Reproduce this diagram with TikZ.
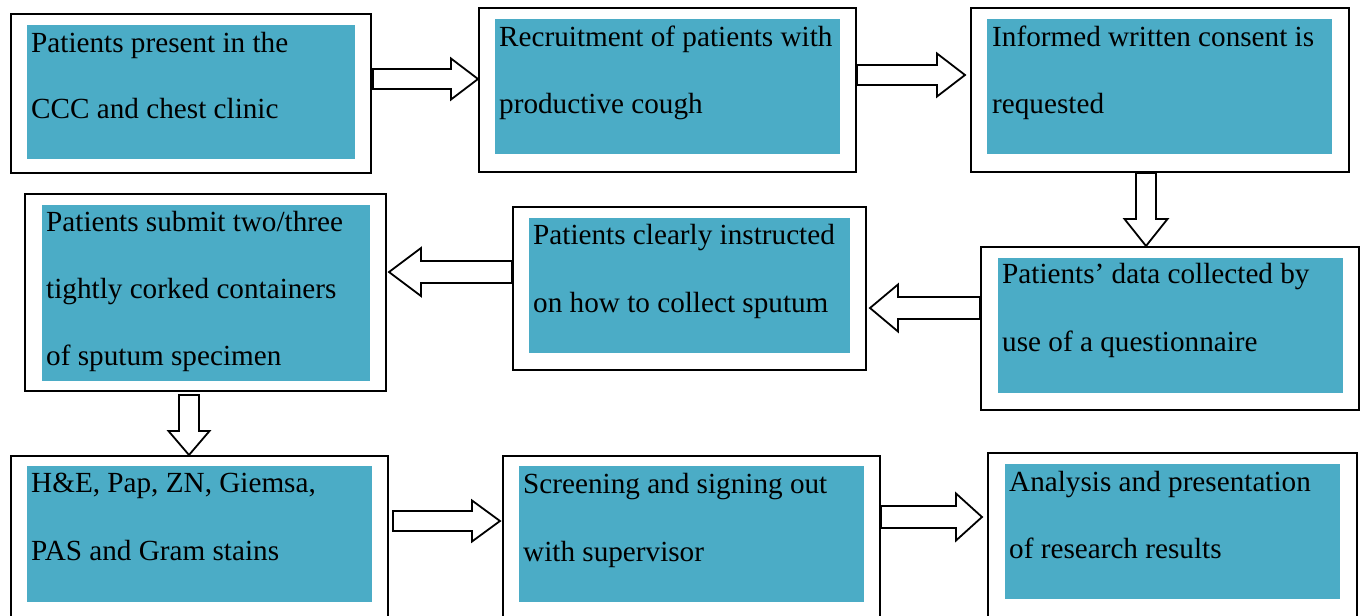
\documentclass[tikz,border=0pt]{standalone}
\usepackage{fontspec}
\setmainfont{Liberation Serif}
\usetikzlibrary{calc,fit}
\definecolor{aqua}{HTML}{4BACC6}
\tikzset{
  outer/.style={draw=black, line width=2pt, inner sep=0pt, rectangle},
  inner/.style={fill=aqua, draw=none, inner sep=0pt, rectangle},
  txt/.style={anchor=base west, inner sep=0pt, font=\fontsize{29.2}{35}\selectfont},
  barrow/.style={draw=black, fill=white, line width=1.8pt, line join=miter}
}
% right-pointing block arrow: start, tip, start shift, tip shift, shaft half, head half, head length
\newcommand{\ArrR}[7]{\draw[barrow] let \p1=(#1), \p2=(#2) in
  ({\x1+#3pt},{\y1+#5pt}) -- ({\x2+#4pt-#7pt},{\y1+#5pt}) -- ({\x2+#4pt-#7pt},{\y1+#6pt}) --
  ({\x2+#4pt},{\y1}) -- ({\x2+#4pt-#7pt},{\y1-#6pt}) -- ({\x2+#4pt-#7pt},{\y1-#5pt}) --
  ({\x1+#3pt},{\y1-#5pt}) -- cycle;}
\newcommand{\ArrL}[7]{\draw[barrow] let \p1=(#1), \p2=(#2) in
  ({\x1-#3pt},{\y1+#5pt}) -- ({\x2-#4pt+#7pt},{\y1+#5pt}) -- ({\x2-#4pt+#7pt},{\y1+#6pt}) --
  ({\x2-#4pt},{\y1}) -- ({\x2-#4pt+#7pt},{\y1-#6pt}) -- ({\x2-#4pt+#7pt},{\y1-#5pt}) --
  ({\x1-#3pt},{\y1-#5pt}) -- cycle;}
\newcommand{\ArrD}[7]{\draw[barrow] let \p1=(#1), \p2=(#2) in
  ({\x1+#5pt},{\y1-#3pt}) -- ({\x1+#5pt},{\y2-#4pt+#7pt}) -- ({\x1+#6pt},{\y2-#4pt+#7pt}) --
  ({\x1},{\y2-#4pt}) -- ({\x1-#6pt},{\y2-#4pt+#7pt}) -- ({\x1-#5pt},{\y2-#4pt+#7pt}) --
  ({\x1-#5pt},{\y1-#3pt}) -- cycle;}
\begin{document}
\begin{tikzpicture}[x=1pt,y=-1pt]
\useasboundingbox (0,0) rectangle (1361,616);
\clip (0,0) rectangle (1361,616);

% outer boxes
\node[outer, fit={(11,14)(371,173)}] (b1) {};
\node[outer, fit={(479,8)(856,172)}] (b2) {};
\node[outer, fit={(971,8)(1349,172)}] (b3) {};
\node[outer, fit={(981,247)(1359,410)}] (b4) {};
\node[outer, fit={(513,207)(866,370)}] (b5) {};
\node[outer, fit={(25,194)(386,391)}] (b6) {};
\node[outer, fit={(11,456)(388,628)}] (b7) {};
\node[outer, fit={(503,456)(880,628)}] (b8) {};
\node[outer, fit={(988,453)(1357,628)}] (b9) {};

% inner fills
\node[inner, fit={(27,25)(355,159)}] (f1) {};
\node[inner, fit={(495,19)(840,154)}] (f2) {};
\node[inner, fit={(987,19)(1332,154)}] (f3) {};
\node[inner, fit={(998,258)(1343,393)}] (f4) {};
\node[inner, fit={(529,218)(850,353)}] (f5) {};
\node[inner, fit={(42,205)(370,381)}] (f6) {};
\node[inner, fit={(27,466)(372,602)}] (f7) {};
\node[inner, fit={(519,466)(864,602)}] (f8) {};
\node[inner, fit={(1005,464)(1340,599)}] (f9) {};

% texts
\node[txt] (t1a) at (31,52) {Patients present in the};
\node[txt] (t1b) at (31,118) {CCC and chest clinic};
\node[txt] (t2a) at (499,46) {Recruitment of patients with};
\node[txt] (t2b) at (499,113) {productive cough};
\node[txt] (t3a) at (992,46) {Informed written consent is};
\node[txt] (t3b) at (992,113) {requested};
\node[txt] (t4a) at (1002,283) {Patients’ data collected by};
\node[txt] (t4b) at (1002,351) {use of a questionnaire};
\node[txt] (t5a) at (533,244) {Patients clearly instructed};
\node[txt] (t5b) at (533,312) {on how to collect sputum};
\node[txt] (t6a) at (46,231) {Patients submit two/three};
\node[txt] (t6b) at (46,298) {tightly corked containers};
\node[txt] (t6c) at (46,365) {of sputum specimen};
\node[txt] (t7a) at (31,492) {H\&E, Pap, ZN, Giemsa,};
\node[txt] (t7b) at (31,560) {PAS and Gram stains};
\node[txt] (t8a) at (523,493) {Screening and signing out};
\node[txt] (t8b) at (523,561) {with supervisor};
\node[txt] (t9a) at (1009,491) {Analysis and presentation};
\node[txt] (t9b) at (1009,558) {of research results};

% arrow levels
\coordinate (a1) at (0,79);
\coordinate (a2) at (0,75);
\coordinate (a3) at (1146,0);
\coordinate (a4) at (0,308);
\coordinate (a5) at (0,272);
\coordinate (a6) at (189,0);
\coordinate (a7) at (0,521);
\coordinate (a8) at (0,517);

\ArrR{b1.east |- a1}{b2.west |- a1}{1}{0}{10}{20.5}{27}
\ArrR{b2.east |- a2}{b3.west |- a2}{0}{-5}{10}{21.5}{28}
\ArrD{b3.south -| a3}{b4.north -| a3}{0}{0}{10}{21.5}{27}
\ArrL{b4.west |- a4}{b5.east |- a4}{0}{-3}{11}{23.5}{28}
\ArrL{b5.west |- a5}{b6.east |- a5}{0}{-2}{11}{24}{32}
\ArrD{b6.south -| a6}{b7.north -| a6}{3}{0}{10}{20.5}{24}
\ArrR{b7.east |- a7}{b8.west |- a7}{4}{-2}{10}{20.5}{28}
\ArrR{b8.east |- a8}{b9.west |- a8}{0}{-5}{11}{23.5}{26}
\end{tikzpicture}
\end{document}
